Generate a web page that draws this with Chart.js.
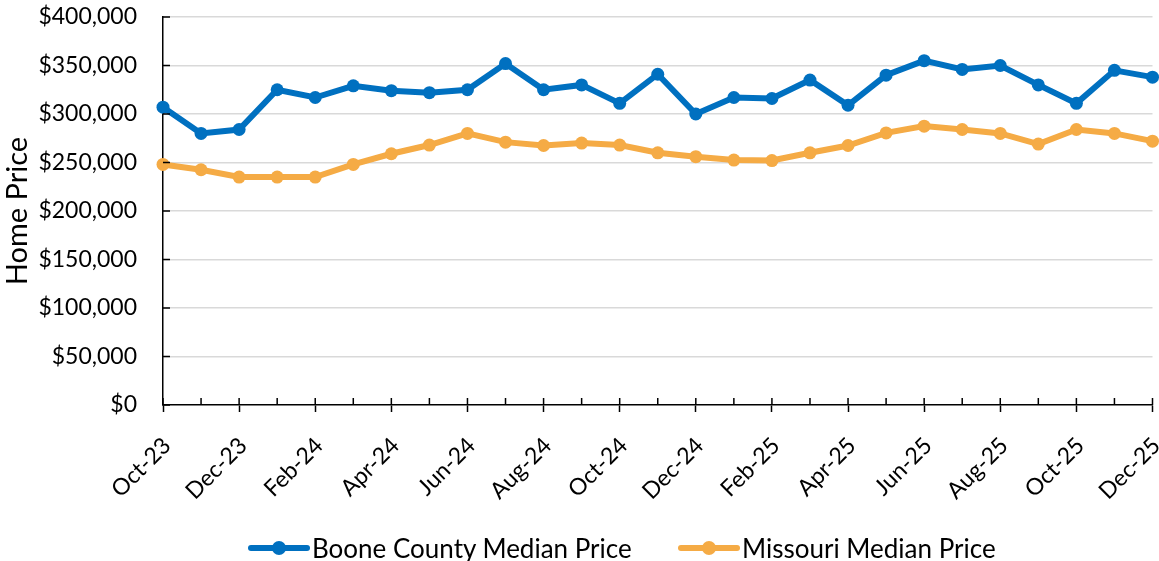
<!DOCTYPE html>
<html>
<head>
<meta charset="utf-8">
<script src="https://cdn.jsdelivr.net/npm/chart.js@4"></script>
<style>
  body { margin: 0; background: #fff; }
  #wrap { position: relative; width: 1159px; height: 561px; font-family: Lato, sans-serif; }
  #legend .item { position: absolute; top: 533px; height: 30px; display: flex; align-items: center; font-size: 26px; color: #000; white-space: nowrap; }
  #legend .mark { position: relative; width: 62px; height: 6px; border-radius: 3px; margin-right: 2px; }
  #legend .mark span { position: absolute; left: 24px; top: -4px; width: 14px; height: 14px; border-radius: 50%; }
</style>
</head>
<body>
<div id="wrap">
  <canvas id="chart" width="1159" height="561"></canvas>
  <div id="legend"></div>
</div>
<script>
const months = ['Oct-23', 'Nov-23', 'Dec-23', 'Jan-24', 'Feb-24', 'Mar-24', 'Apr-24', 'May-24', 'Jun-24',
  'Jul-24', 'Aug-24', 'Sep-24', 'Oct-24', 'Nov-24', 'Dec-24', 'Jan-25', 'Feb-25', 'Mar-25',
  'Apr-25', 'May-25', 'Jun-25', 'Jul-25', 'Aug-25', 'Sep-25', 'Oct-25', 'Nov-25', 'Dec-25'];

const boonePrice = [307000, 280000, 284000, 325000, 317000, 329000, 324000, 322000, 325000,
  352000, 325000, 330000, 311000, 341000, 300000, 317000, 316000, 335000,
  309000, 340000, 355000, 346000, 350000, 330000, 311000, 345000, 338000];

const missouriPrice = [248000, 242500, 235000, 235000, 235000, 248000, 259000, 268000, 280000,
  271000, 267500, 270000, 268000, 260000, 256000, 252500, 252000, 260000,
  267500, 280500, 287500, 284000, 280000, 269000, 284000, 280000, 272000];

const seriesNames = ['Boone County Median Price', 'Missouri Median Price'];
const seriesColors = ['#0070C0', '#F5AB45'];
const legendLeft = [248, 678];

// small tick marks on the inner side of both axes (Excel style)
const insideTicks = {
  id: 'insideTicks',
  afterDraw(chart) {
    const { ctx, chartArea } = chart;
    const xs = chart.scales.x, ys = chart.scales.y;
    ctx.save();
    ctx.strokeStyle = '#000';
    ctx.lineWidth = 1.5;
    ctx.beginPath();
    xs.ticks.forEach((t, i) => {
      const px = xs.getPixelForTick(i);
      ctx.moveTo(px, chartArea.bottom);
      ctx.lineTo(px, chartArea.bottom - 7);
    });
    ys.ticks.forEach((t, i) => {
      const py = ys.getPixelForTick(i);
      ctx.moveTo(chartArea.left, py);
      ctx.lineTo(chartArea.left + 7, py);
    });
    ctx.stroke();
    ctx.restore();
  }
};

Chart.defaults.font.family = 'Lato, sans-serif';
Chart.defaults.color = '#000';

const lineSet = (label, data, color) => ({
  label: label,
  data: data,
  borderColor: color,
  backgroundColor: color,
  pointBackgroundColor: color,
  pointBorderWidth: 0,
  borderWidth: 6,
  pointRadius: 6.5,
  tension: 0,
  clip: false
});

const chart = new Chart(document.getElementById('chart'), {
  type: 'line',
  data: {
    labels: months,
    datasets: [
      lineSet(seriesNames[0], boonePrice, seriesColors[0]),
      lineSet(seriesNames[1], missouriPrice, seriesColors[1])
    ]
  },
  options: {
    responsive: false,
    animation: false,
    devicePixelRatio: 1,
    layout: { padding: { top: 17, right: 4, left: 0, bottom: 0 } },
    plugins: {
      legend: { display: false },
      tooltip: { enabled: false }
    },
    scales: {
      x: {
        afterFit: s => { s.height = 156; s.paddingRight = 0; s.paddingLeft = 0; },
        border: { color: '#000', width: 1.5 },
        grid: {
          drawOnChartArea: false,
          drawTicks: true,
          tickLength: 7,
          tickWidth: 1.5,
          tickColor: ctx => ctx.index % 2 === 0 ? '#000' : 'rgba(0,0,0,0)'
        },
        ticks: {
          autoSkip: false,
          maxRotation: 45,
          minRotation: 45,
          padding: 20,
          labelOffset: 4,
          font: { size: 23 },
          callback: (v, i) => i % 2 === 0 ? months[i] : ''
        }
      },
      y: {
        min: 0,
        max: 400000,
        afterFit: s => { s.width = 163; s.paddingTop = 0; s.paddingBottom = 0; },
        border: { color: '#000', width: 1.5 },
        grid: {
          drawTicks: false,
          lineWidth: 1.5,
          color: ctx => ctx.tick.value === 0 ? 'rgba(0,0,0,0)' : '#D9D9D9'
        },
        ticks: {
          stepSize: 50000,
          padding: 26,
          font: { size: 23 },
          callback: v => '$' + v.toLocaleString('en-US')
        },
        title: {
          display: true,
          text: 'Home Price',
          padding: { top: 0, bottom: 0 },
          font: { size: 29 }
        }
      }
    }
  },
  plugins: [insideTicks]
});

// legend below the plot, built from the chart's datasets
const legend = document.getElementById('legend');
chart.data.datasets.forEach((ds, i) => {
  const item = document.createElement('div');
  item.className = 'item';
  item.style.left = legendLeft[i] + 'px';
  const mark = document.createElement('div');
  mark.className = 'mark';
  mark.style.background = ds.borderColor;
  const dot = document.createElement('span');
  dot.style.background = ds.borderColor;
  mark.appendChild(dot);
  item.appendChild(mark);
  item.appendChild(document.createTextNode(ds.label));
  legend.appendChild(item);
});
</script>
</body>
</html>
